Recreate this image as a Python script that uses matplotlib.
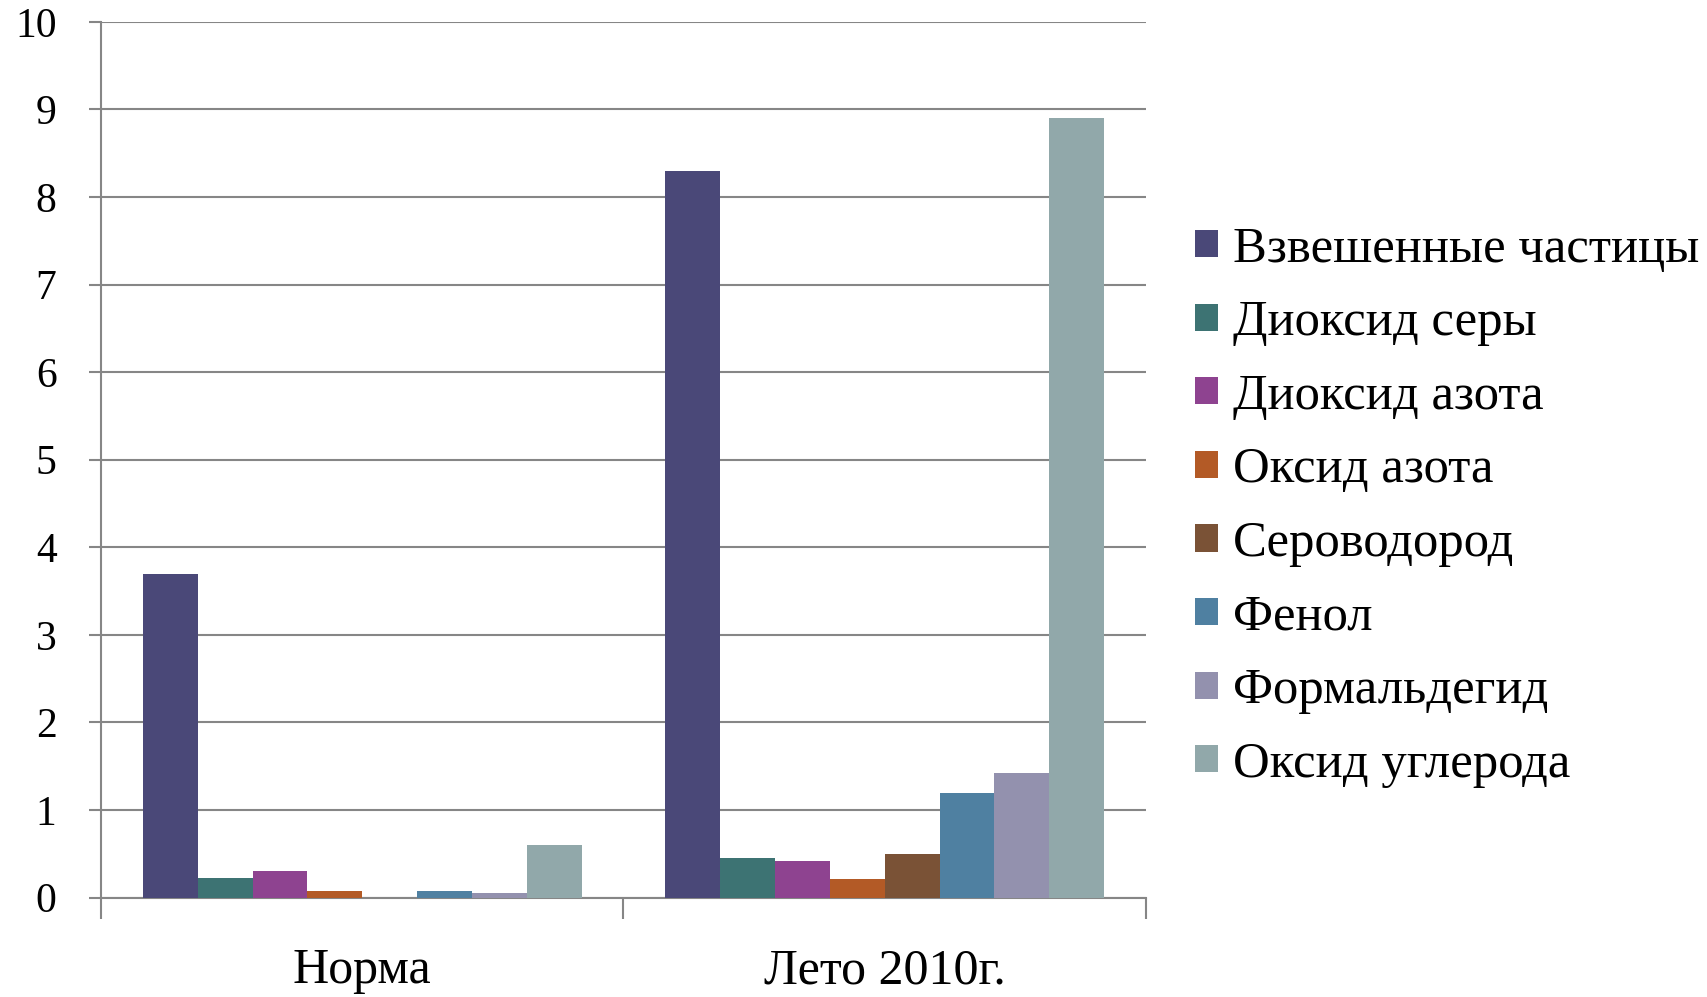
import matplotlib
matplotlib.use("Agg")
import matplotlib.pyplot as plt
import numpy as np
from matplotlib.ticker import FixedLocator

plt.rcParams['font.family'] = ['Liberation Serif', 'DejaVu Serif']

categories = ["Норма", "Лето 2010г."]
series_names = ["Взвешенные частицы", "Диоксид серы", "Диоксид азота", "Оксид азота",
                "Сероводород", "Фенол", "Формальдегид", "Оксид углерода"]
norma = [3.7, 0.22, 0.3, 0.075, 0.0, 0.08, 0.05, 0.6]
leto = [8.3, 0.45, 0.42, 0.21, 0.5, 1.2, 1.42, 8.9]
colors = ["#4A4878", "#3D7373", "#8E4390", "#B35A26", "#7A5236", "#4F80A1", "#9391AE", "#91A8AA"]
yticks = [0, 1, 2, 3, 4, 5, 6, 7, 8, 9, 10]

fig = plt.figure(figsize=(17.08, 9.97), dpi=100)
ax = fig.add_axes([101/1708, 1-897.6/997, 1045/1708, 875.8/997])

n = len(series_names)
bw = 0.105
centers = np.arange(len(categories)) + 0.5
for i, name in enumerate(series_names):
    vals = [norma[i], leto[i]]
    x = centers - bw*n/2 + bw*(i+0.5)
    ax.bar(x, vals, width=bw, color=colors[i], label=name, zorder=3)

ax.set_xlim(0, 2)
ax.set_ylim(0, 10)
ax.set_yticks(yticks)
ax.set_yticklabels([str(t) for t in yticks], fontsize=30)
ax.yaxis.grid(True, color="#868686", linewidth=1.5, zorder=0)
ax.set_axisbelow(True)

ax.xaxis.set_major_locator(FixedLocator([0, 1, 2]))
ax.xaxis.set_minor_locator(FixedLocator(list(centers)))
ax.set_xticklabels([])
ax.set_xticklabels(categories, minor=True, fontsize=36)
ax.tick_params(axis='x', which='major', length=15, width=1.5, color="#868686")
ax.tick_params(axis='x', which='minor', length=0, pad=36)
ax.tick_params(axis='y', length=9, width=1.5, color="#868686", pad=23)

for s in ['top', 'right']:
    ax.spines[s].set_visible(False)
for s in ['left', 'bottom']:
    ax.spines[s].set_color("#868686")
    ax.spines[s].set_linewidth(1.5)

leg = fig.legend(loc='center left', bbox_to_anchor=(1195/1708, 1-507/997),
                 frameon=False, fontsize=36.5, handlelength=0.45, handleheight=0.45,
                 handletextpad=0.3, labelspacing=0.535, borderpad=0, borderaxespad=0)

fig.savefig("out.png", dpi=100)
